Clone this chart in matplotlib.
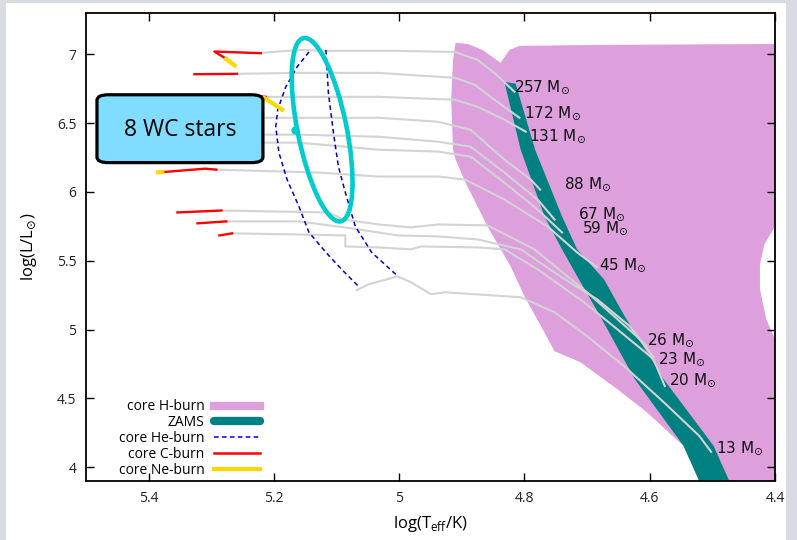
import numpy as np
import matplotlib.pyplot as plt
from matplotlib.patches import Polygon, FancyBboxPatch, Ellipse, Rectangle
from matplotlib.lines import Line2D
from matplotlib.ticker import MultipleLocator, FuncFormatter
from matplotlib.transforms import ScaledTranslation

plt.rcParams['font.family'] = ['Open Sans', 'DejaVu Sans']

#core H-burning region (outline)
hburn_T = [4.910, 4.890, 4.867, 4.838, 4.824, 4.808, 4.684, 4.400, 4.400, 4.417, 4.424,
           4.424, 4.414, 4.400, 4.400, 4.521, 4.546, 4.605, 4.652, 4.711, 4.752, 4.771,
           4.800, 4.822, 4.859, 4.894, 4.910, 4.914, 4.917, 4.914]
hburn_L = [7.083, 7.075, 7.032, 6.938, 7.032, 7.061, 7.068, 7.075, 5.749, 5.619, 5.474,
           5.293, 5.075, 4.930, 3.900, 3.900, 4.155, 4.401, 4.568, 4.764, 4.843, 5.003,
           5.242, 5.459, 5.749, 6.068, 6.235, 6.307, 6.670, 6.959]

#ZAMS band (outline)
zams_T = [4.832, 4.806, 4.768, 4.740, 4.713, 4.679, 4.624, 4.546, 4.521,
          4.473, 4.498, 4.578, 4.640, 4.673, 4.716, 4.740, 4.783, 4.814]
zams_L = [6.800, 6.307, 5.822, 5.583, 5.365, 5.097, 4.641, 4.155, 3.900,
          3.900, 4.155, 4.641, 5.097, 5.365, 5.583, 5.822, 6.307, 6.786]

#evolutionary tracks, from the ZAMS to the end
tr257_T = [4.816, 4.848, 4.875, 4.911, 5.002, 5.113, 5.160, 5.221]
tr257_L = [6.728, 6.865, 6.959, 7.017, 7.025, 7.025, 7.032, 7.010]
tr172_T = [4.808, 4.848, 4.879, 4.911, 5.033, 5.160, 5.259]
tr172_L = [6.539, 6.670, 6.778, 6.829, 6.865, 6.865, 6.858]
tr131_T = [4.798, 4.832, 4.875, 4.911, 5.033, 5.160, 5.219]
tr131_L = [6.438, 6.525, 6.619, 6.670, 6.691, 6.691, 6.691]
tr88_T = [4.775, 4.790, 4.832, 4.886, 4.938, 5.033, 5.160, 5.240]
tr88_L = [6.017, 6.090, 6.235, 6.452, 6.510, 6.539, 6.539, 6.539]
tr67_T = [4.752, 4.779, 4.832, 4.886, 4.938, 5.033, 5.160, 5.240]
tr67_L = [5.800, 5.945, 6.141, 6.329, 6.365, 6.401, 6.416, 6.416]
tr59_T = [4.740, 4.779, 4.832, 4.886, 4.938, 5.033, 5.160, 5.240]
tr59_L = [5.706, 5.872, 6.068, 6.257, 6.293, 6.307, 6.358, 6.358]
tr45_T = [4.684, 4.716, 4.763, 4.832, 4.895, 4.938, 5.033, 5.129, 5.292]
tr45_L = [5.452, 5.561, 5.749, 5.945, 6.090, 6.112, 6.112, 6.141, 6.162]
tr26_T = [4.605, 4.621, 4.700, 4.784, 4.859, 4.938, 4.981, 5.033, 5.089, 5.113, 5.284]
tr26_L = [4.880, 4.952, 5.271, 5.583, 5.757, 5.764, 5.742, 5.764, 5.800, 5.851, 5.865]
tr23_T = [4.594, 4.632, 4.684, 4.743, 4.806, 4.875, 4.938, 5.002, 5.086, 5.160, 5.276]
tr23_L = [4.800, 5.025, 5.220, 5.387, 5.583, 5.655, 5.677, 5.684, 5.742, 5.786, 5.786]
tr20_T = [4.576, 4.594, 4.652, 4.705, 4.779, 4.832, 4.875, 4.965, 4.981, 5.033, 5.086,
          5.086, 5.160, 5.267]
tr20_L = [4.590, 4.786, 5.003, 5.199, 5.438, 5.583, 5.597, 5.604, 5.583, 5.597, 5.604,
          5.684, 5.691, 5.699]
tr13_T = [4.502, 4.521, 4.578, 4.641, 4.700, 4.752, 4.806, 4.927, 4.949, 4.981, 5.002,
          5.049, 5.068]
tr13_L = [4.112, 4.228, 4.474, 4.735, 4.952, 5.126, 5.235, 5.271, 5.257, 5.343, 5.387,
          5.329, 5.286]

#core He-burning limits
he1_T = [5.144, 5.163, 5.181, 5.194, 5.197, 5.192, 5.179, 5.160, 5.144, 5.117, 5.092, 5.065]
he1_L = [7.017, 6.909, 6.764, 6.597, 6.474, 6.286, 6.090, 5.894, 5.706, 5.561, 5.438, 5.314]
he2_T = [5.117, 5.116, 5.113, 5.105, 5.097, 5.086, 5.070, 5.044, 5.002]
he2_L = [7.032, 6.959, 6.720, 6.430, 6.184, 5.996, 5.749, 5.561, 5.387]

#core C-burning parts
c257_T = [5.221, 5.295, 5.279]
c257_L = [7.008, 7.020, 6.975]
c172_T = [5.259, 5.327]
c172_L = [6.858, 6.855]
c131_T = [5.213, 5.222]
c131_L = [6.691, 6.695]
c45_T = [5.292, 5.310, 5.375]
c45_L = [6.162, 6.169, 6.145]
c26_T = [5.284, 5.354]
c26_L = [5.865, 5.851]
c23_T = [5.276, 5.322]
c23_L = [5.786, 5.772]
c20_T = [5.267, 5.287]
c20_L = [5.699, 5.684]

#core Ne-burning parts
ne257_T = [5.279, 5.260]
ne257_L = [6.975, 6.910]
ne131_T = [5.218, 5.184]
ne131_L = [6.691, 6.590]
ne45_T = [5.375, 5.388]
ne45_L = [6.145, 6.141]

#mass labels
mass_names = ['257', '172', '131', '88', '67', '59', '45', '26', '23', '20', '13']
lab_T = [4.816, 4.800, 4.792, 4.737, 4.714, 4.708, 4.681, 4.605, 4.587, 4.570, 4.494]
lab_L = [6.731, 6.543, 6.376, 6.028, 5.811, 5.709, 5.441, 4.891, 4.753, 4.601, 4.108]

#WC stars region
wc_T = 5.123
wc_L = 6.452

fig = plt.figure(figsize=(7.97, 5.40), dpi=100)
fig.patch.set_facecolor('#d9dbe2')
fig.add_artist(Rectangle((6/797, 0), 780/797, 537/540, transform=fig.transFigure,
                         fc='white', ec='none', zorder=0))

ax = fig.add_axes([86/797, 1-481/540, 689/797, 468/540])
ax.set_facecolor('white')
ax.set_xlim(5.5, 4.4)
ax.set_ylim(3.9, 7.3)

ax.add_patch(Polygon(np.column_stack([hburn_T, hburn_L]), closed=True,
                     fc='#dda0dd', ec='none', zorder=1))
ax.add_patch(Polygon(np.column_stack([zams_T, zams_L]), closed=True,
                     fc='#008080', ec='none', zorder=2))

tracks = [(tr257_T, tr257_L), (tr172_T, tr172_L), (tr131_T, tr131_L), (tr88_T, tr88_L),
          (tr67_T, tr67_L), (tr59_T, tr59_L), (tr45_T, tr45_L), (tr26_T, tr26_L),
          (tr23_T, tr23_L), (tr20_T, tr20_L), (tr13_T, tr13_L)]
for T, L in tracks:
    ax.plot(T, L, color='#d3d3d3', lw=1.5, zorder=3)

for T, L in [(he1_T, he1_L), (he2_T, he2_L)]:
    ax.plot(T, L, color='#0000cc', lw=1.1, ls=(0, (3, 2.2)), zorder=4)

for T, L in [(c257_T, c257_L), (c172_T, c172_L), (c131_T, c131_L), (c45_T, c45_L),
             (c26_T, c26_L), (c23_T, c23_L), (c20_T, c20_L)]:
    ax.plot(T, L, color='#ff0000', lw=1.7, zorder=5)

for T, L in [(ne257_T, ne257_L), (ne131_T, ne131_L), (ne45_T, ne45_L)]:
    ax.plot(T, L, color='#ffd700', lw=3, solid_capstyle='butt', zorder=6)

#WC ellipse (size in inches)
trans = fig.dpi_scale_trans + ScaledTranslation(wc_T, wc_L, ax.transData)
ax.add_patch(Ellipse((0, 0), 0.49, 1.87, angle=11.5, transform=trans,
                     fc='none', ec='#00cccc', lw=3.3, zorder=7))
ax.plot([5.166], [wc_L], 'o', color='#00cccc', ms=5, zorder=7)

#label box
ax.add_patch(FancyBboxPatch((5.2175, 6.213), 0.265, 0.493,
                            boxstyle='round,pad=0,rounding_size=0.018',
                            mutation_aspect=2.28, fc='#80ddff', ec='black',
                            lw=2.3, zorder=8))
ax.text(5.35, 6.452, '8 WC stars', fontsize=16.5, ha='center', va='center', zorder=9)

for name, T, L in zip(mass_names, lab_T, lab_L):
    ax.text(T, L, name + r' $\mathregular{M}_{\odot}$', fontsize=11, family='DejaVu Sans',
            ha='left', va='baseline', color='#111111', zorder=10)

#axes style
ax.xaxis.set_major_locator(MultipleLocator(0.2))
ax.yaxis.set_major_locator(MultipleLocator(0.5))
fmt = FuncFormatter(lambda v, p: '%g' % round(v, 2))
ax.xaxis.set_major_formatter(fmt)
ax.yaxis.set_major_formatter(fmt)
ax.tick_params(direction='in', length=6, width=1, top=True, right=True,
               labelsize=10, pad=7, colors='black', labelcolor='#222222')
for s in ax.spines.values():
    s.set_linewidth(1.3)

ax.set_xlabel(r'log(T$_\mathregular{eff}$/K)', fontsize=12, labelpad=6)
ax.set_ylabel(r'log($\mathregular{L/L}_{\odot}$)', fontsize=12, labelpad=13)

handles = [Line2D([], [], color='#dda0dd', lw=6),
           Line2D([], [], color='#008080', lw=6, solid_capstyle='round'),
           Line2D([], [], color='#0000cc', lw=1.1, ls=(0, (3, 2.2))),
           Line2D([], [], color='#ff0000', lw=1.8),
           Line2D([], [], color='#ffd700', lw=3)]
labels = ['core H-burn', 'ZAMS', 'core He-burn', 'core C-burn', 'core Ne-burn']
ax.legend(handles, labels, loc='lower right', bbox_to_anchor=(0.2525, 0.007),
          frameon=False, markerfirst=False, fontsize=10, handlelength=3.3,
          handletextpad=0.7, labelspacing=0.06, borderpad=0, borderaxespad=0)

plt.savefig('out.png', dpi=100, facecolor=fig.get_facecolor())
